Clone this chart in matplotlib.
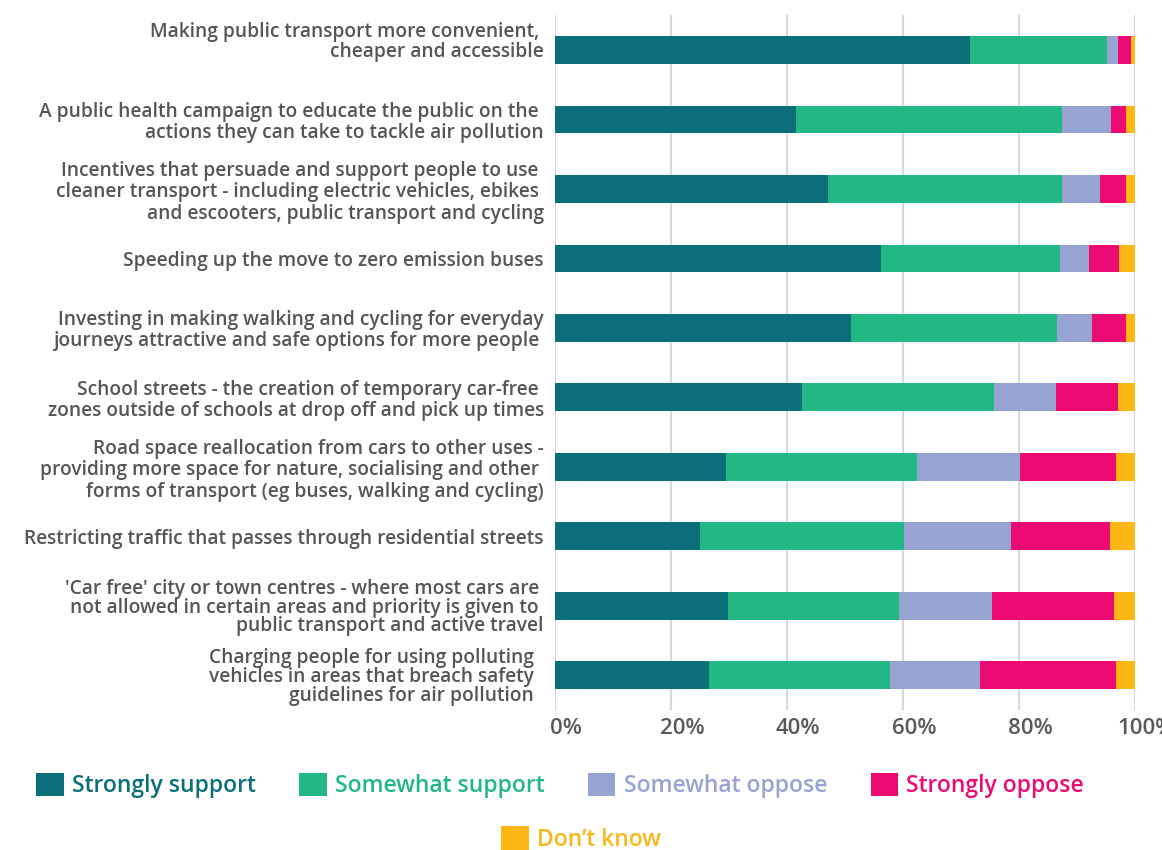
import matplotlib.pyplot as plt
import matplotlib.transforms as mtransforms
import numpy as np

labels = [
    "Making public transport more convenient, \ncheaper and accessible",
    "A public health campaign to educate the public on the \nactions they can take to tackle air pollution",
    "Incentives that persuade and support people to use \ncleaner transport - including electric vehicles, ebikes \nand escooters, public transport and cycling",
    "Speeding up the move to zero emission buses",
    "Investing in making walking and cycling for everyday\njourneys attractive and safe options for more people ",
    "School streets - the creation of temporary car-free \nzones outside of schools at drop off and pick up times",
    "Road space reallocation from cars to other uses -\nproviding more space for nature, socialising and other \nforms of transport (eg buses, walking and cycling)",
    "Restricting traffic that passes through residential streets",
    "'Car free' city or town centres - where most cars are \nnot allowed in certain areas and priority is given to \npublic transport and active travel",
    "Charging people for using polluting  \nvehicles in areas that breach safety  \nguidelines for air pollution  ",
]

strongly_support = [71.5, 41.6, 47.0, 56.2, 51.1, 42.5, 29.4, 25.0, 29.8, 26.5]
somewhat_support = [23.6, 45.8, 40.4, 30.8, 35.5, 33.1, 33.0, 35.1, 29.5, 31.2]
somewhat_oppose = [1.9, 8.4, 6.6, 5.0, 5.9, 10.8, 17.7, 18.5, 16.0, 15.5]
strongly_oppose = [2.3, 2.7, 4.5, 5.3, 5.9, 10.7, 16.6, 17.1, 21.1, 23.5]
dont_know = [0.7, 1.5, 1.5, 2.7, 1.6, 2.9, 3.3, 4.3, 3.6, 3.3]

series = [
    ("Strongly support", strongly_support, "#0a6f78"),
    ("Somewhat support", somewhat_support, "#21b884"),
    ("Somewhat oppose", somewhat_oppose, "#96a3d3"),
    ("Strongly oppose", strongly_oppose, "#ec0a73"),
    ("Don\u2019t know", dont_know, "#fcb714"),
]
xticks = [0, 20, 40, 60, 80, 100]

plt.rcParams['font.family'] = ['Open Sans', 'DejaVu Sans']
txt_col = '#555555'

fig = plt.figure(figsize=(11.62, 8.5), dpi=100)
ax = fig.add_axes([0.4776, 0.1647, 0.4992, 0.8173])

y = np.arange(len(labels))
left = np.zeros(len(labels))
handles = []
for name, vals, col in series:
    b = ax.barh(y, vals, left=left, height=0.4, color=col, label=name, zorder=3)
    handles.append(b)
    left += np.array(vals)

ax.set_xlim(0, 100)
ax.set_ylim(9.5, -0.5)
ax.set_yticks(y)
ax.set_yticklabels(labels, fontsize=13.8, color=txt_col, fontweight='semibold', linespacing=1.05)
ax.set_xticks(xticks)
ax.set_xticklabels([f"{v}%" for v in xticks], fontsize=16, color='#595959', fontweight='semibold')
ax.tick_params(axis='both', length=0)
ax.tick_params(axis='y', pad=8)
ax.tick_params(axis='x', pad=6)
ax.grid(axis='x', color='#d9d9d9', linewidth=1.5, zorder=0)
for s in ax.spines.values():
    s.set_visible(False)

leg1 = fig.legend(handles[:4], [s[0] for s in series[:4]], loc='center',
                  bbox_to_anchor=(0.482, 0.076), ncol=4, frameon=False,
                  fontsize=16.5, handlelength=1.2, handleheight=1.2,
                  handletextpad=0.35, columnspacing=1.9)
leg2 = fig.legend(handles[4:], [series[4][0]], loc='center',
                  bbox_to_anchor=(0.5, 0.013), frameon=False,
                  fontsize=16.5, handlelength=1.2, handleheight=1.2,
                  handletextpad=0.35)
for leg, ss in ((leg1, series[:4]), (leg2, series[4:])):
    for t, s in zip(leg.get_texts(), ss):
        t.set_color(s[2])
        t.set_fontweight('semibold')

fig.canvas.draw()
off = mtransforms.ScaledTranslation(0.11, 0, fig.dpi_scale_trans)
for t in ax.get_xticklabels():
    t.set_transform(t.get_transform() + off)
ylabs = ax.get_yticklabels()
ylabs[0].set_transform(ylabs[0].get_transform()
                       + mtransforms.ScaledTranslation(0, 0.11, fig.dpi_scale_trans))
for t in ylabs[8:]:
    t.set_linespacing(0.92)
for i in (2, 6):
    ylabs[i].set_linespacing(1.1)

fig.savefig('out.png', dpi=100)
